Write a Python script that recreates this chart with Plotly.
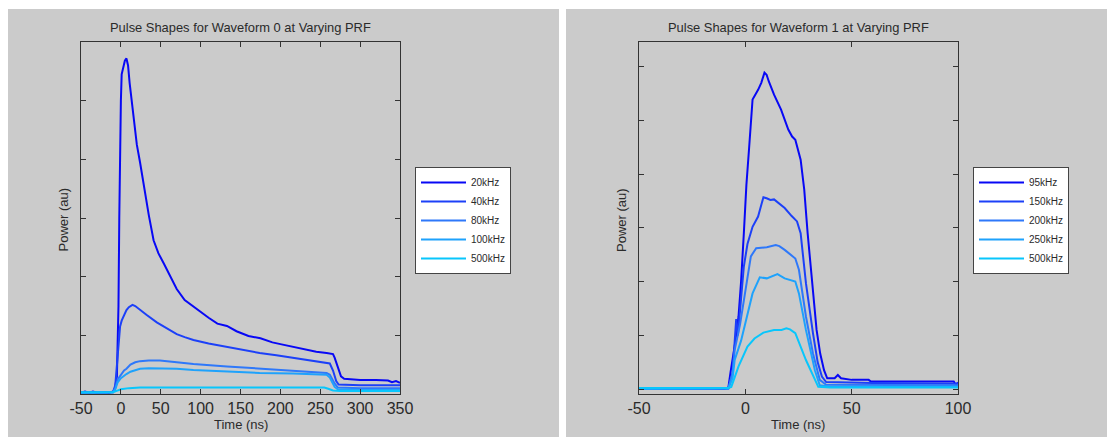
import plotly.graph_objects as go

# ---------------- Data: Waveform 0 ----------------
W0_LABELS = ["20kHz", "40kHz", "80kHz", "100kHz", "500kHz"]
W0_T_20K = [-50, -45, -40, -35, -30, -25, -20, -15, -12, -8, -5, -3, -2, -1, 0, 1, 3, 5, 7, 9, 11, 13.6, 16.4, 20, 24, 27.6,
            35, 41, 47, 54, 62, 70, 80, 90, 99, 110, 121, 133, 145, 160, 175, 190, 200, 216, 230, 245, 258, 266, 268,
            272, 276, 280, 300, 320, 335, 340, 345, 350]
W0_P_20K = [0.02, 0.04, 0.02, 0.04, 0.02, 0.03, 0.03, 0.02, 0.03, 0.05, 0.3, 1.5, 3.0, 4.3, 5.0, 5.45, 5.6, 5.68, 5.72,
            5.6, 5.3, 5.0, 4.67, 4.25, 3.95, 3.65, 3.05, 2.62, 2.4, 2.22, 2.0, 1.79, 1.6, 1.5, 1.4, 1.3, 1.2, 1.16, 1.07,
            0.99, 0.95, 0.88, 0.85, 0.80, 0.76, 0.72, 0.70, 0.68, 0.62, 0.45, 0.3, 0.26, 0.24, 0.24, 0.23, 0.2, 0.22, 0.19]
W0_T_40K = [-50, -30, -10, -7, -5, -3, -1, 1, 4, 7, 10, 14.6, 18, 24, 32, 45, 57, 70, 80, 91, 110, 133, 150, 174, 195,
            216, 240, 258, 262, 266, 270, 273, 300, 350]
W0_P_40K = [0.02, 0.03, 0.03, 0.15, 0.5, 0.9, 1.15, 1.25, 1.35, 1.43, 1.48, 1.52, 1.5, 1.43, 1.35, 1.22, 1.12, 1.02,
            0.97, 0.92, 0.86, 0.80, 0.76, 0.70, 0.66, 0.62, 0.57, 0.53, 0.52, 0.40, 0.22, 0.16, 0.15, 0.15]
W0_T_80K = [-50, -30, -10, -7, -4, 0, 4, 7, 12, 18, 24, 35, 49, 70, 91, 133, 174, 216, 258, 262, 268, 272, 300, 350]
W0_P_80K = [0.03, 0.02, 0.03, 0.1, 0.25, 0.33, 0.4, 0.43, 0.5, 0.54, 0.56, 0.57, 0.57, 0.54, 0.51, 0.47, 0.43, 0.40,
            0.36, 0.33, 0.18, 0.11, 0.10, 0.10]
W0_T_100K = [-50, -30, -10, -7, -4, 0, 4, 7, 12, 18, 24, 35, 49, 70, 91, 133, 174, 216, 258, 262, 268, 272, 300, 350]
W0_P_100K = [0.02, 0.03, 0.03, 0.08, 0.2, 0.27, 0.32, 0.34, 0.38, 0.41, 0.43, 0.44, 0.44, 0.43, 0.41, 0.38, 0.36, 0.35,
             0.33, 0.28, 0.12, 0.08, 0.07, 0.07]
W0_T_500K = [-50, -30, -10, -6, 0, 10, 24, 100, 200, 255, 260, 266, 275, 350]
W0_P_500K = [0.03, 0.03, 0.03, 0.05, 0.08, 0.10, 0.11, 0.11, 0.11, 0.11, 0.09, 0.06, 0.05, 0.05]

# ---------------- Data: Waveform 1 ----------------
W1_LABELS = ["95kHz", "150kHz", "200kHz", "250kHz", "500kHz"]
W1_T_95K = [-50, -40, -30, -20, -10, -8, -7, -5, -3.2, -2, -0.7, 0.5, 1.8, 3.4, 6, 7.5, 9, 10, 11, 13.5, 16.8, 20.2,
            22, 23.5, 26, 27.7, 29.3, 31.8, 33.5, 35.2, 37, 38.5, 42, 43.5, 45, 50, 58, 59, 98, 99, 100]
W1_P_95K = [0.0, 0.01, 0.0, 0.01, 0.0, 0.02, 0.3, 0.8, 1.35, 2.0, 2.9, 3.8, 4.5, 5.39, 5.57, 5.7, 5.89, 5.85, 5.73,
            5.48, 5.2, 4.83, 4.7, 4.64, 4.27, 3.71, 2.9, 1.78, 1.1, 0.66, 0.35, 0.2, 0.2, 0.26, 0.2, 0.17, 0.17, 0.14,
            0.14, 0.08, 0.12]
W1_T_150K = [-50, -8, -6, -5, -4.3, -3.5, -2, -0.7, 1, 3.4, 6, 8.5, 10, 11.8, 13.5, 16, 18.5, 21.8, 24.3, 26, 28.5,
             31.8, 34, 36, 38, 60, 100]
W1_P_150K = [0.0, 0.01, 0.3, 1.04, 1.3, 1.0, 1.7, 2.28, 2.7, 3.02, 3.21, 3.57, 3.55, 3.52, 3.53, 3.45, 3.37, 3.22,
             3.12, 2.9, 1.97, 1.04, 0.5, 0.23, 0.13, 0.11, 0.10]
W1_T_200K = [-50, -8, -6, -5, -2.5, -0.7, 1, 2.6, 5.1, 10.1, 14.3, 16, 18.5, 23.5, 25.2, 28.5, 31.8, 35, 38, 100]
W1_P_200K = [0.0, 0.01, 0.3, 0.73, 1.2, 1.66, 2.15, 2.47, 2.62, 2.64, 2.68, 2.66, 2.59, 2.43, 2.22, 1.35, 0.66, 0.17,
             0.08, 0.07]
W1_T_250K = [-50, -8, -6, -5, -2, -0.7, 3.4, 6.8, 10.1, 15.1, 18.5, 23.5, 25.2, 28.5, 32.7, 35, 40, 100]
W1_P_250K = [0.0, 0.01, 0.2, 0.54, 0.9, 1.1, 1.78, 2.08, 2.06, 2.14, 2.06, 2.0, 1.78, 1.1, 0.35, 0.07, 0.04, 0.04]
W1_T_500K = [-50, -8, -6.6, -3.2, 1, 4.3, 8.5, 13.5, 17, 19.3, 21, 23.5, 28.5, 34.3, 40, 100]
W1_P_500K = [0.02, 0.02, 0.04, 0.42, 0.79, 0.94, 1.05, 1.1, 1.1, 1.13, 1.11, 1.04, 0.54, 0.04, 0.03, 0.03]

# ---------------- Tick labels ----------------
X0_TICKS = [-50, 0, 50, 100, 150, 200, 250, 300, 350]
X0_TICK_LABELS = ["-50", "0", "50", "100", "150", "200", "250", "300", "350"]
X1_TICKS = [-50, 0, 50, 100]
X1_TICK_LABELS = ["-50", "0", "50", "100"]
Y_TICKS = [0, 1, 2, 3, 4, 5, 6]

COLORS = ["#0808F5", "#1C40F8", "#2E78FA", "#1EA2FC", "#08C6FC"]

W0_SERIES = [(W0_T_20K, W0_P_20K), (W0_T_40K, W0_P_40K), (W0_T_80K, W0_P_80K),
             (W0_T_100K, W0_P_100K), (W0_T_500K, W0_P_500K)]
W1_SERIES = [(W1_T_95K, W1_P_95K), (W1_T_150K, W1_P_150K), (W1_T_200K, W1_P_200K),
             (W1_T_250K, W1_P_250K), (W1_T_500K, W1_P_500K)]

W, H = 1107, 437
FONT = "Liberation Sans, Arial, sans-serif"
TXT = "#2a2a2a"
GRAY = "#CBCBCB"


def px(x):
    return x / W


def py(y):
    return 1 - y / H


fig = go.Figure()
for (t, p), name, c in zip(W0_SERIES, W0_LABELS, COLORS):
    fig.add_trace(go.Scatter(x=t, y=p, mode="lines", name=name, line=dict(color=c, width=2),
                             xaxis="x", yaxis="y", legend="legend"))
for (t, p), name, c in zip(W1_SERIES, W1_LABELS, COLORS):
    fig.add_trace(go.Scatter(x=t, y=p, mode="lines", name=name, line=dict(color=c, width=2),
                             xaxis="x2", yaxis="y2", legend="legend2"))

axis_common = dict(showline=True, linecolor="#333333", linewidth=1, mirror="allticks",
                   ticks="inside", ticklen=5, tickcolor="#333333", showgrid=False, zeroline=False,
                   automargin=False, tickfont=dict(family=FONT, size=16, color=TXT))

legend_common = dict(xanchor="left", yanchor="top", bgcolor="white", itemwidth=45,
                     bordercolor="#444444", borderwidth=1, font=dict(family=FONT, size=10, color=TXT),
                     tracegroupgap=0)

fig.update_layout(
    width=W, height=H, autosize=False,
    margin=dict(l=0, r=0, t=0, b=0, pad=0, autoexpand=False),
    paper_bgcolor="white", plot_bgcolor="white",
    showlegend=True,
    xaxis=dict(domain=[px(81), px(400)], range=[-50, 350], tickvals=X0_TICKS, ticktext=X0_TICK_LABELS,
               anchor="y", **axis_common),
    yaxis=dict(domain=[py(394), py(42)], range=[0, 6], tickvals=Y_TICKS, showticklabels=False,
               anchor="x", **axis_common),
    xaxis2=dict(domain=[px(639), px(958)], range=[-50, 100], tickvals=X1_TICKS, ticktext=X1_TICK_LABELS,
                anchor="y2", **axis_common),
    yaxis2=dict(domain=[py(394), py(42)], range=[-0.093, 6.46], tickvals=Y_TICKS,
                showticklabels=False, anchor="x2", **axis_common),
    legend=dict(x=px(415), y=py(167), **legend_common),
    legend2=dict(x=px(973), y=py(167), **legend_common),
    shapes=[
        dict(type="rect", xref="paper", yref="paper", x0=px(8), x1=px(559), y0=0, y1=py(9),
             fillcolor=GRAY, line=dict(width=0), layer="below"),
        dict(type="rect", xref="paper", yref="paper", x0=px(566), x1=1, y0=0, y1=py(9),
             fillcolor=GRAY, line=dict(width=0), layer="below"),
    ],
    annotations=[
        dict(text="Pulse Shapes for Waveform 0 at Varying PRF", x=px(240.5), y=py(27), xref="paper", yref="paper",
             showarrow=False, xanchor="center", yanchor="middle", font=dict(family=FONT, size=12.9, color=TXT)),
        dict(text="Pulse Shapes for Waveform 1 at Varying PRF", x=px(798.5), y=py(27), xref="paper", yref="paper",
             showarrow=False, xanchor="center", yanchor="middle", font=dict(family=FONT, size=12.9, color=TXT)),
        dict(text="Time (ns)", x=px(240.5), y=py(424.5), xref="paper", yref="paper",
             showarrow=False, xanchor="center", yanchor="middle", font=dict(family=FONT, size=13, color=TXT)),
        dict(text="Time (ns)", x=px(798.5), y=py(424.5), xref="paper", yref="paper",
             showarrow=False, xanchor="center", yanchor="middle", font=dict(family=FONT, size=13, color=TXT)),
        dict(text="Power (au)", x=px(62.5), y=py(220), xref="paper", yref="paper", textangle=-90,
             showarrow=False, xanchor="center", yanchor="middle", font=dict(family=FONT, size=13, color=TXT)),
        dict(text="Power (au)", x=px(621), y=py(220), xref="paper", yref="paper", textangle=-90,
             showarrow=False, xanchor="center", yanchor="middle", font=dict(family=FONT, size=13, color=TXT)),
    ],
)

fig.write_html("out.html",
               config={"displayModeBar": False},
               post_script="document.body.style.margin='0';document.body.style.overflow='hidden';")
